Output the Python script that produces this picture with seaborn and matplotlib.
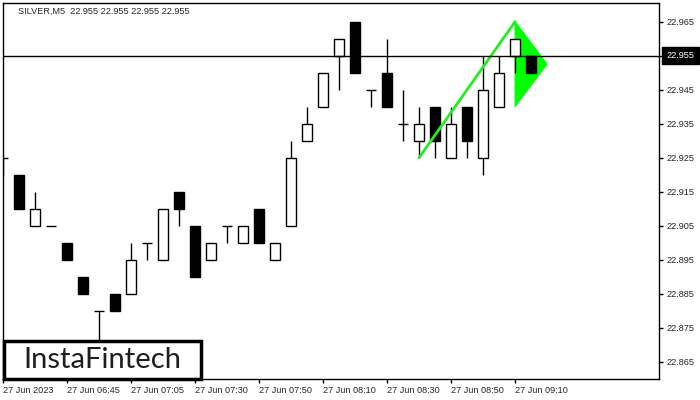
#!/usr/bin/env python3

# Third party imports.
import numpy as np
import pandas as pd
import seaborn as sns
import matplotlib

matplotlib.use("Agg")
import matplotlib.pyplot as plt
import matplotlib.patches as mpatches
import matplotlib.transforms as mtransforms

# SILVER M5 candles.
opens = [22.925, 22.920, 22.905, 22.905, 22.900, 22.890, 22.880, 22.885,
         22.885, 22.900, 22.895, 22.915, 22.905, 22.895, 22.905, 22.900,
         22.910, 22.895, 22.905, 22.930, 22.940, 22.955, 22.965, 22.945,
         22.950, 22.935, 22.930, 22.940, 22.925, 22.940, 22.925, 22.940,
         22.955, 22.955]
highs = [22.925, 22.920, 22.915, 22.905, 22.900, 22.890, 22.880, 22.885,
         22.900, 22.900, 22.910, 22.915, 22.905, 22.900, 22.905, 22.905,
         22.910, 22.900, 22.930, 22.940, 22.950, 22.960, 22.965, 22.945,
         22.960, 22.945, 22.940, 22.940, 22.940, 22.940, 22.955, 22.955,
         22.960, 22.955]
lows = [22.920, 22.910, 22.905, 22.905, 22.895, 22.885, 22.870, 22.880,
        22.885, 22.895, 22.895, 22.905, 22.890, 22.895, 22.900, 22.900,
        22.900, 22.895, 22.905, 22.930, 22.940, 22.945, 22.950, 22.940,
        22.940, 22.930, 22.925, 22.925, 22.925, 22.925, 22.920, 22.940,
        22.950, 22.950]
closes = [22.925, 22.910, 22.910, 22.905, 22.895, 22.885, 22.880, 22.880,
          22.895, 22.900, 22.910, 22.910, 22.890, 22.900, 22.905, 22.905,
          22.900, 22.900, 22.925, 22.935, 22.950, 22.960, 22.950, 22.945,
          22.940, 22.935, 22.935, 22.930, 22.935, 22.930, 22.945, 22.950,
          22.960, 22.950]

# Time axis labels (one every 4 bars).
tick_bars = [0, 4, 8, 12, 16, 20, 24, 28, 32]
tick_labels = ["27 Jun 2023", "27 Jun 06:45", "27 Jun 07:05", "27 Jun 07:30",
               "27 Jun 07:50", "27 Jun 08:10", "27 Jun 08:30", "27 Jun 08:50",
               "27 Jun 09:10"]
price_ticks = [22.865, 22.875, 22.885, 22.895, 22.905, 22.915, 22.925,
               22.935, 22.945, 22.955, 22.965]

# Bullish pennant pattern.
pole_bars = [26, 32]
pole_prices = [22.925, 22.965]
pennant_bars = [32, 32, 34]
pennant_prices = [22.965, 22.940, 22.9525]

last_price = 22.955
title = "SILVER,M5  22.955 22.955 22.955 22.955"

FONT = ["Liberation Sans", "DejaVu Sans"]


def main():
    df = pd.DataFrame({"open": opens, "high": highs, "low": lows, "close": closes})
    df["bar"] = np.arange(len(df))
    df["bull"] = df["close"] >= df["open"]

    sns.set_style("white")
    plt.rcParams["font.family"] = FONT

    fig = plt.figure(figsize=(7, 4), dpi=100)
    ax = fig.add_axes([0.004, 0.0525, 0.938, 0.94])

    # Pennant (behind the candles).
    ax.add_patch(mpatches.Polygon(list(zip(pennant_bars, pennant_prices)),
                                  closed=True, facecolor="#00ff00",
                                  edgecolor="#00ff00", lw=0.8, zorder=1))

    # Wicks.
    ax.vlines(df["bar"], df["low"], df["high"], color="black", lw=1, zorder=2)

    # Bodies.
    body_w = 0.66
    bottoms = df[["open", "close"]].min(axis=1)
    heights = (df["close"] - df["open"]).abs()
    solid = heights > 0
    ax.bar(df.loc[solid, "bar"], heights[solid], bottom=bottoms[solid],
           width=body_w, color=np.where(df.loc[solid, "bull"], "white", "black"),
           edgecolor="black", lw=1, zorder=3)
    doji = df[~solid]
    ax.hlines(doji["close"], doji["bar"] - body_w / 2, doji["bar"] + body_w / 2,
              color="black", lw=1, zorder=3)

    # Flag pole.
    sns.lineplot(x=pole_bars, y=pole_prices, color="#22ee22", lw=2,
                 ax=ax, zorder=4)

    # Last price line.
    ax.axhline(last_price, color="black", lw=1, zorder=5)

    ax.set_xlim(-0.02, 41.02)
    ax.set_ylim(22.8599, 22.9705)

    ax.set_xticks(tick_bars)
    ax.set_xticklabels(tick_labels, ha="left", fontsize=6.6)
    for lab in ax.get_xticklabels():
        lab.set_transform(lab.get_transform()
                          + mtransforms.ScaledTranslation(-1 / 100, 0, fig.dpi_scale_trans))
    ax.yaxis.tick_right()
    ax.set_yticks(price_ticks)
    # the last price gets its own boxed label below
    ax.set_yticklabels(["" if p == last_price else "{:.3f}".format(p)
                        for p in price_ticks], fontsize=6.6)
    ax.tick_params(axis="both", direction="out", length=3, width=1,
                   color="black", pad=2, bottom=True, right=True)

    for spine in ax.spines.values():
        spine.set_visible(True)
        spine.set_color("black")
        spine.set_linewidth(1)

    # Current price marker on the right axis.
    trans = mtransforms.blended_transform_factory(ax.transAxes, ax.transData)
    ax.text(1.011, last_price, "{:.3f}".format(last_price), transform=trans,
            ha="left", va="center", fontsize=6.6, color="white", zorder=6,
            bbox=dict(boxstyle="square,pad=0.45", facecolor="black",
                      edgecolor="black"), clip_on=False)

    fig.text(18 / 700, 1 - 11 / 400, title, fontsize=6.6, va="center",
             ha="left")

    # Logo box.
    fig.patches.append(mpatches.Rectangle((4 / 700, 21 / 400), 197 / 700, 38 / 400,
                                          transform=fig.transFigure,
                                          facecolor="white", edgecolor="black",
                                          lw=2.5, zorder=10))
    fig.text(102 / 700, 40 / 400, "InstaFintech", ha="center", va="center",
             fontsize=21, color="#1e1e1e", family=["Lato", "DejaVu Sans"],
             zorder=11)

    fig.savefig("out.png", dpi=100)
    plt.close()


if __name__ == "__main__":
    main()
